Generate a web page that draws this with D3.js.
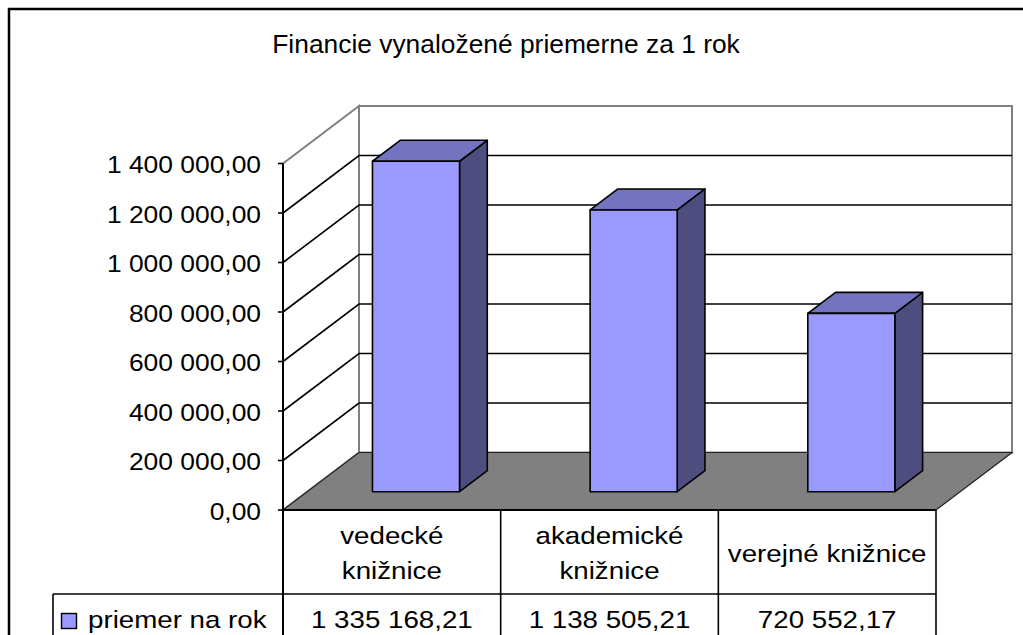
<!DOCTYPE html>
<html>
<head>
<meta charset="utf-8">
<script src="https://cdn.jsdelivr.net/npm/d3@7"></script>
<style>
  html, body { margin: 0; padding: 0; background: #fff; }
  svg { display: block; }
  text { font-family: "Liberation Sans", Arial, sans-serif; fill: #000; }
</style>
</head>
<body>
<svg id="chart" width="1023" height="635"></svg>
<script>
// ---- data ----
const title = "Financie vynaložené priemerne za 1 rok";
const categories = ["vedecké knižnice", "akademické knižnice", "verejné knižnice"];
const seriesName = "priemer na rok";
const values = [1335168.21, 1138505.21, 720552.17];
const yTicks = [0, 200000, 400000, 600000, 800000, 1000000, 1200000, 1400000];

// ---- layout ----
const W = 1023, H = 635;
const plotLeft = 283, plotRight = 936;
const yBottom = 510, yTop = 163.5;
const DX = 76, DY = 57.5;          // depth offset of back wall
const barD0 = 0.318, barD1 = 0.683; // bar depth range (fraction)

const loc = d3.formatLocale({decimal: ",", thousands: "\u00a0", grouping: [3], currency: ["", ""]});
const fmt = loc.format(",.2f");

const svg = d3.select("#chart");

const x = d3.scaleBand().domain(categories).range([plotLeft, plotRight]).paddingInner(0.6).paddingOuter(0.3);
const xCol = d3.scaleBand().domain(categories).range([plotLeft, plotRight]).padding(0);
const y = d3.scaleLinear().domain([0, 1400000]).range([yBottom, yTop]);

// projection: front-plane x, value, depth fraction
const P = (u, v, d) => [u + d * DX, y(v) - d * DY];
const poly = pts => pts.map(p => p.join(",")).join(" ");

function label(g, txt, px, py, size, sx, anchor) {
  return g.append("text")
    .attr("transform", `translate(${px},${py}) scale(${sx},1)`)
    .attr("text-anchor", anchor || "middle")
    .style("font-size", size + "px")
    .text(txt);
}

// outer border
svg.append("rect").attr("x", 9).attr("y", 9).attr("width", W + 20).attr("height", H + 20)
  .attr("fill", "none").attr("stroke", "#000").attr("stroke-width", 2.5);

// title
label(svg, title, 506, 53.3, 25, 1.055);

const vmax = y.domain()[1];

// back wall
svg.append("polygon")
  .attr("points", poly([P(plotLeft, 0, 1), P(plotRight, 0, 1), P(plotRight, vmax, 1), P(plotLeft, vmax, 1)]))
  .attr("fill", "#fff").attr("stroke", "#808080").attr("stroke-width", 2);
// side wall
svg.append("polygon")
  .attr("points", poly([P(plotLeft, 0, 0), P(plotLeft, 0, 1), P(plotLeft, vmax, 1), P(plotLeft, vmax, 0)]))
  .attr("fill", "#fff").attr("stroke", "#808080").attr("stroke-width", 2);

// gridlines
const inner = yTicks.filter(v => v > 0 && v < vmax);
svg.append("g").selectAll("polyline").data(inner).join("polyline")
  .attr("points", v => poly([P(plotLeft, v, 0), P(plotLeft, v, 1), P(plotRight, v, 1)]))
  .attr("fill", "none").attr("stroke", "#000").attr("stroke-width", 1.6);

// floor
svg.append("polygon")
  .attr("points", poly([P(plotLeft, 0, 0), P(plotRight, 0, 0), P(plotRight, 0, 1), P(plotLeft, 0, 1)]))
  .attr("fill", "#808080").attr("stroke", "#222").attr("stroke-width", 1.2);

// bars
const bars = svg.append("g").selectAll("g").data(categories.map((c, i) => ({c, v: values[i]}))).join("g");
bars.each(function(d) {
  const g = d3.select(this);
  const l = x(d.c), r = x(d.c) + x.bandwidth();
  g.append("polygon") // side
    .attr("points", poly([P(r, 0, barD0), P(r, 0, barD1), P(r, d.v, barD1), P(r, d.v, barD0)]))
    .attr("fill", "#4d4d80").attr("stroke", "#000").attr("stroke-width", 1.6).attr("stroke-linejoin", "round");
  g.append("polygon") // top
    .attr("points", poly([P(l, d.v, barD0), P(r, d.v, barD0), P(r, d.v, barD1), P(l, d.v, barD1)]))
    .attr("fill", "#7373bf").attr("stroke", "#000").attr("stroke-width", 1.6).attr("stroke-linejoin", "round");
  g.append("polygon") // front
    .attr("points", poly([P(l, 0, barD0), P(r, 0, barD0), P(r, d.v, barD0), P(l, d.v, barD0)]))
    .attr("fill", "#9999ff").attr("stroke", "#000").attr("stroke-width", 1.6).attr("stroke-linejoin", "round");
});

// y axis
const yAxis = svg.append("g");
yAxis.append("line").attr("x1", plotLeft).attr("x2", plotLeft).attr("y1", y(vmax)).attr("y2", H + 5)
  .attr("stroke", "#000").attr("stroke-width", 2);
yAxis.selectAll("line.tick").data(yTicks).join("line").attr("class", "tick")
  .attr("x1", plotLeft - 5).attr("x2", plotLeft).attr("y1", v => y(v)).attr("y2", v => y(v))
  .attr("stroke", "#000").attr("stroke-width", 1.6);
yTicks.forEach(v => label(yAxis, fmt(v), 261, y(v) + 9.7, 24, 1.1, "end"));

// data table
const tbl = svg.append("g");
const rowMid = (yBottom + 594) / 2;
const rowSplit = 594;
tbl.append("line").attr("x1", plotLeft).attr("x2", plotRight).attr("y1", yBottom).attr("y2", yBottom)
  .attr("stroke", "#000").attr("stroke-width", 2.2);
tbl.append("line").attr("x1", 53).attr("x2", plotRight).attr("y1", rowSplit).attr("y2", rowSplit)
  .attr("stroke", "#000").attr("stroke-width", 1.6);
tbl.append("line").attr("x1", 53).attr("x2", 53).attr("y1", rowSplit).attr("y2", H + 5)
  .attr("stroke", "#000").attr("stroke-width", 1.6);
categories.forEach(c => {
  const xr = xCol(c) + xCol.bandwidth();
  tbl.append("line").attr("x1", xr).attr("x2", xr).attr("y1", yBottom).attr("y2", H + 5)
    .attr("stroke", "#000").attr("stroke-width", 1.6);
});
const tsx = 1.155, tsize = 24;
categories.forEach((c, i) => {
  const cx = xCol(c) + xCol.bandwidth() / 2;
  const t = label(tbl, c, cx, rowMid + 9.7, tsize, tsx);
  const w = t.node().getComputedTextLength() * tsx;
  if (w > xCol.bandwidth() - 12) {
    t.remove();
    const k = c.lastIndexOf(" ");
    label(tbl, c.slice(0, k), cx, rowMid + 9.7 - 17.5, tsize, tsx);
    label(tbl, c.slice(k + 1), cx, rowMid + 9.7 + 17.5, tsize, tsx);
  }
  label(tbl, fmt(values[i]), cx, 628.3, tsize, tsx);
});
// legend key
tbl.append("rect").attr("x", 61.5).attr("y", 613.5).attr("width", 15).attr("height", 15)
  .attr("fill", "#9999ff").attr("stroke", "#000").attr("stroke-width", 1.4);
label(tbl, seriesName, 88, 628.3, tsize, tsx, "start");
</script>
</body>
</html>
